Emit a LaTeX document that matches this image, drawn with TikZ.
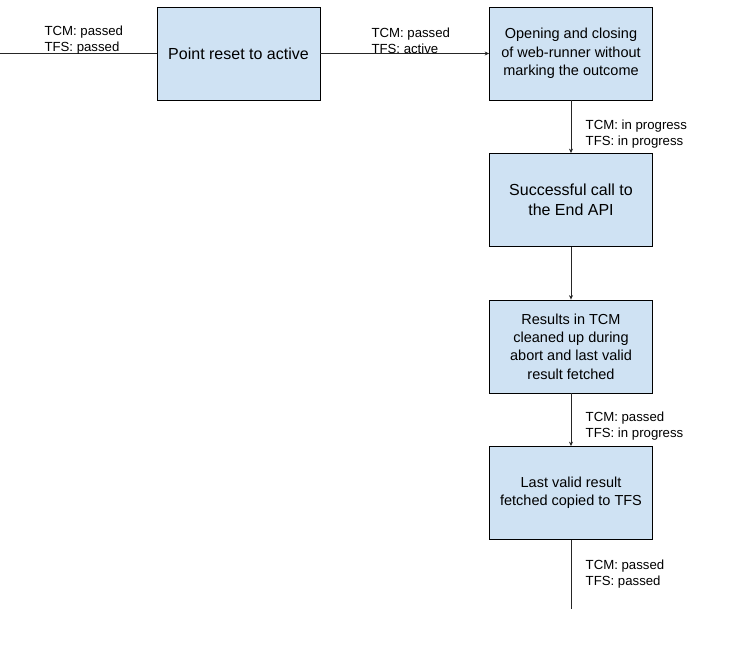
\documentclass[tikz,border=0pt]{standalone}
\usepackage{fontspec}
\setmainfont{Liberation Sans}
\usepackage{xcolor}
\definecolor{boxblue}{HTML}{CFE2F3}
\definecolor{linegray}{HTML}{262626}
\tikzstyle{stepbox} = [draw=black, rectangle, fill=boxblue, line width=0.8pt, minimum width=163pt, minimum height=93pt, inner sep=0pt, align=center, font=\fontsize{14.5}{18.3}\selectfont]
\tikzstyle{statustext} = [align=left, text=black, font=\fontsize{13.2}{16}\selectfont]
\tikzstyle{flow} = [draw=linegray, line width=0.8pt, -{Stealth[length=4.5pt, width=4pt]}]
\tikzstyle{plainline} = [draw=linegray, line width=0.8pt]
\usetikzlibrary{positioning, arrows.meta}

\begin{document}
\begin{tikzpicture}[>=Stealth, node distance=146.5pt]
	\useasboundingbox (0,0) rectangle (740pt,-653pt);
	
	% steps
	\node[stepbox, font=\fontsize{16}{19.5}\selectfont] (reset) at (238.5pt,-53.5pt) {Point reset to active};
	\node[stepbox, right of=reset, node distance=332.5pt] (open) {Opening and closing\\of web-runner without\\marking the outcome};
	\node[stepbox, below of=open, font=\fontsize{16}{19.5}\selectfont] (endcall) {Successful call to\\the End API};
	\node[stepbox, below of=endcall] (cleanup) {Results in TCM\\cleaned up during\\abort and last valid\\result fetched};
	\node[stepbox, below of=cleanup] (copy) {Last valid result\\fetched copied to TFS};
	
	% loose ends
	\coordinate (start) at (0,-53.5pt);
	\coordinate (finish) at ([yshift=-69pt]copy.south);
	
	% connections
	\draw [plainline] (start) -- (reset) node[midway, above, xshift=5.5pt, yshift=-4.5pt, statustext] {TCM: passed\\TFS: passed};
	\draw [flow] (reset) -- (open) node[midway, above, xshift=6pt, yshift=-4pt, statustext] {TCM: passed\\TFS: active};
	\draw [flow] (open) -- (endcall) node[midway, right=11pt, yshift=-7pt, statustext] {TCM: in progress\\TFS: in progress};
	\draw [flow] (endcall) -- (cleanup);
	\draw [flow] (cleanup) -- (copy) node[midway, right=11pt, yshift=-6.4pt, statustext] {TCM: passed\\TFS: in progress};
	\draw [plainline] (copy) -- (finish) node[midway, right=11pt, yshift=0pt, statustext] {TCM: passed\\TFS: passed};
	
\end{tikzpicture}
\end{document}
